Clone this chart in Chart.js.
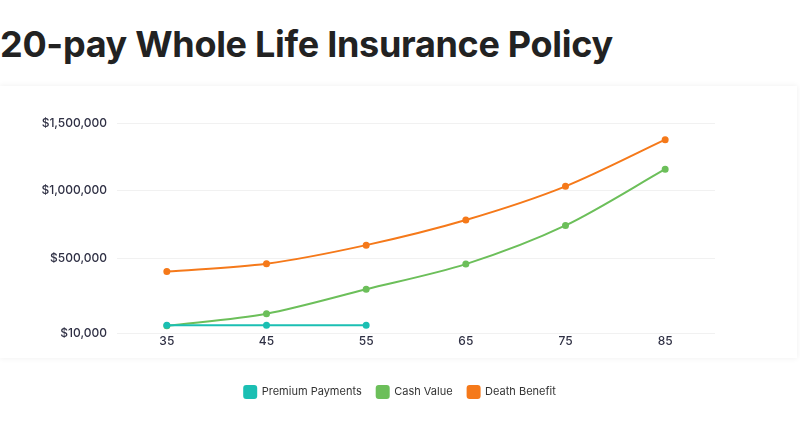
<!DOCTYPE html>
<html>
<head>
<meta charset="utf-8">
<script src="https://cdn.jsdelivr.net/npm/chart.js@4"></script>
<style>
  body { margin: 0; background: #fff; font-family: Inter, "Noto Sans", sans-serif; }
  h1 { position: absolute; left: 0; top: 22px; margin: 0; font-size: 36px; font-weight: 700; color: #222; letter-spacing: -0.3px; }
  .card { position: absolute; left: 0; top: 86px; width: 797px; height: 272px; background: #fff; box-shadow: 0 0 6px rgba(0,0,0,0.07); }
  .wrap { position: absolute; left: 0; top: 86px; width: 800px; height: 330px; }
</style>
</head>
<body>
<h1>20-pay Whole Life Insurance Policy</h1>
<div class="card"></div>
<div class="wrap"><canvas id="chart"></canvas></div>
<script>
// ages on x axis
const ages = ['35', '45', '55', '65', '75', '85']

// series values
const premiumPayments = [10000, 10000, 10000, null, null, null]
const cashValue = [5000, 95000, 275000, 460000, 745000, 1160000]
const deathBenefit = [405000, 463000, 600000, 785000, 1033000, 1377000]

// y ticks (bottom tick sits a bit below zero in the original)
const yTickValues = [-52000, 500000, 1000000, 1500000]
const yTickLabels = ['$10,000', '$500,000', '$1,000,000', '$1,500,000']

const tickColor = '#2f3044'

function line(label, data, color) {
  return {
    label: label,
    data: data,
    borderColor: color,
    backgroundColor: color,
    borderWidth: 2,
    pointRadius: 2.5,
    pointHoverRadius: 2.5,
    tension: 0.3,
    spanGaps: false
  }
}

const ctx = document.getElementById('chart').getContext('2d')
new Chart(ctx, {
  type: 'line',
  data: {
    labels: ages,
    datasets: [
      line('Premium Payments', premiumPayments, '#1bbfb3'),
      line('Cash Value', cashValue, '#6cbf5a'),
      line('Death Benefit', deathBenefit, '#f5791a')
    ]
  },
  options: {
    responsive: true,
    maintainAspectRatio: false,
    animation: false,
    layout: { padding: { left: 0, right: 0, top: 37, bottom: 8 } },
    plugins: {
      tooltip: { enabled: false },
      legend: {
        position: 'bottom',
        labels: {
          boxWidth: 12,
          boxHeight: 12,
          useBorderRadius: true,
          borderRadius: 2,
          padding: 15,
          color: '#333',
          font: { family: 'Inter', size: 11 }
        }
      }
    },
    scales: {
      x: {
        offset: true,
        grid: { display: false, drawTicks: false },
        border: { display: false },
        ticks: { color: tickColor, padding: 1, font: { family: 'Inter', size: 12, weight: 500 } },
        afterFit: scale => { scale.height += 21 }
      },
      y: {
        min: yTickValues[0],
        max: yTickValues[yTickValues.length - 1],
        afterBuildTicks: scale => {
          scale.ticks = yTickValues.map(v => ({ value: v }))
        },
        afterFit: scale => { scale.width = 117 },
        grid: { color: '#f1f1f1', drawTicks: false },
        border: { display: false },
        ticks: {
          color: tickColor,
          padding: 10,
          font: { family: 'Inter', size: 12, weight: 500 },
          callback: (value, i) => yTickLabels[i]
        }
      },
      // empty axis on the right, only to keep the gap on that side
      yRight: {
        position: 'right',
        grid: { display: false, drawTicks: false },
        border: { display: false },
        ticks: { display: false },
        afterFit: scale => { scale.width = 85 }
      }
    }
  }
})
</script>
</body>
</html>
